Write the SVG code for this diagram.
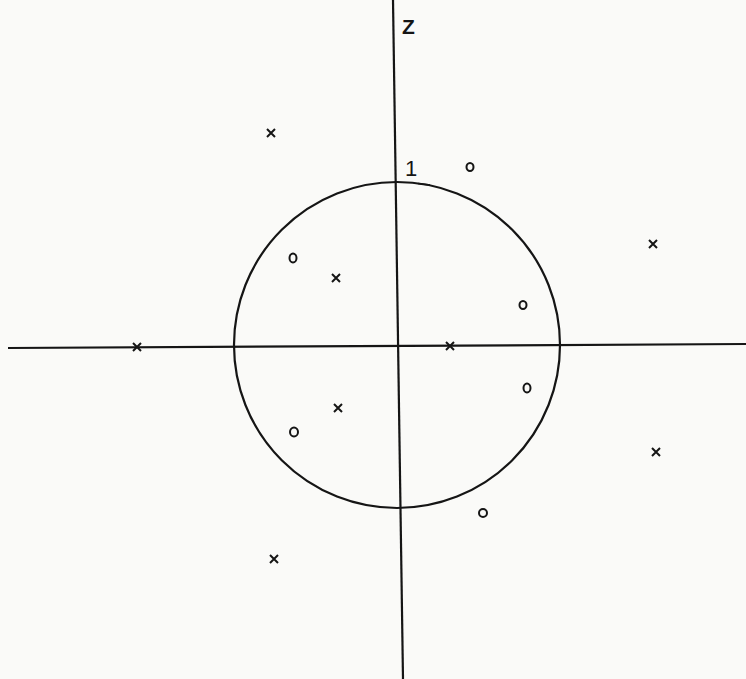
<svg xmlns="http://www.w3.org/2000/svg" width="746" height="679" viewBox="0 0 746 679">
<style>
.ax{stroke:#151515;stroke-width:2.2;fill:none}
.o{stroke:#151515;stroke-width:2;fill:none}
.x{stroke:#151515;stroke-width:2;fill:none}
.t{font-family:"Liberation Sans",Arial,sans-serif;fill:#151515}
</style>
<defs>
<path id="xm" d="M-4,-4 L4,4 M4,-4 L-4,4"/>
</defs>
<rect width="746" height="679" fill="#fafaf8"/>
<g id="axes">
<line class="ax" x1="8" y1="348" x2="746" y2="344"/>
<line class="ax" x1="393" y1="0" x2="403" y2="679"/>
</g>
<g id="unit-circle">
<circle class="ax" cx="397" cy="345" r="163"/>
<path d="M418,183.5 L430,185" stroke="#151515" stroke-width="1.6" fill="none"/>
</g>
<g id="labels">
<text class="t" x="402" y="34" font-size="21" font-weight="bold">Z</text>
<text class="t" x="405" y="176" font-size="22">1</text>
</g>
<g id="zeros">
<ellipse class="o" cx="470" cy="167" rx="3.5" ry="4"/>
<ellipse class="o" cx="293" cy="258" rx="3.5" ry="4.5"/>
<ellipse class="o" cx="523" cy="305" rx="3.5" ry="4"/>
<ellipse class="o" cx="527" cy="388" rx="3.5" ry="4.5"/>
<ellipse class="o" cx="294" cy="432" rx="4" ry="4.5"/>
<ellipse class="o" cx="483" cy="513" rx="4" ry="4"/>
</g>
<g id="poles">
<use class="x" href="#xm" x="271" y="133"/>
<use class="x" href="#xm" x="336" y="278"/>
<use class="x" href="#xm" x="653" y="244"/>
<use class="x" href="#xm" x="137" y="347"/>
<use class="x" href="#xm" x="450" y="346"/>
<use class="x" href="#xm" x="338" y="408"/>
<use class="x" href="#xm" x="656" y="452"/>
<use class="x" href="#xm" x="274" y="559"/>
</g>
</svg>
